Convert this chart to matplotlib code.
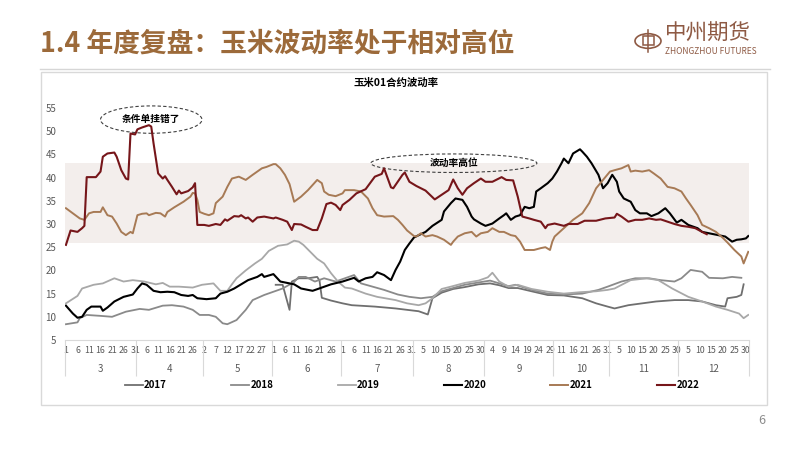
import calendar
import matplotlib
matplotlib.use("Agg")
import matplotlib.pyplot as plt
from matplotlib.patches import Ellipse, Rectangle, Circle
from matplotlib.lines import Line2D

plt.rcParams["font.family"] = ["Noto Sans CJK SC", "DejaVu Sans"]

# category axis: calendar days Mar-Dec, holidays dropped
months = [3, 4, 5, 6, 7, 8, 9, 10, 11, 12]
skipped = [(4, 5), (5, 1), (10, 1), (10, 2), (10, 3), (10, 4), (10, 5), (10, 6), (10, 7)]

years = ["2017", "2018", "2019", "2020", "2021", "2022"]

# series: category index -> volatility
x_2017 = [91, 94, 96, 97, 98, 101, 105, 109, 110, 111, 115, 120, 124, 134, 143, 153, 157, 159, 163, 168,
          173, 179, 184, 188, 192, 196, 202, 209, 216, 224, 230, 235, 238, 244, 250, 256, 264, 270, 276,
          282, 286, 287, 291, 293, 294]
v_2017 = [16.9, 16.9, 13.3, 11.5, 17.6, 18.3, 18.3, 18.6, 17.8, 14.1, 13.5, 12.9, 12.5, 12.2, 11.8, 11.2,
          10.5, 14.0, 15.2, 16.0, 16.4, 17.0, 17.2, 16.8, 16.2, 16.2, 15.5, 14.7, 14.6, 14.0, 12.9, 12.2,
          11.8, 12.5, 12.9, 13.3, 13.6, 13.6, 13.3, 12.5, 12.2, 14.0, 14.3, 14.7, 17.0]

x_2018 = [0, 5, 6, 9, 15, 20, 26, 32, 36, 42, 46, 51, 55, 58, 62, 65, 68, 70, 74, 78, 81, 86, 90, 94, 99,
          101, 104, 108, 112, 117, 121, 125, 128, 133, 138, 144, 149, 154, 159, 163, 168, 173, 179, 184,
          188, 192, 195, 202, 209, 216, 224, 231, 235, 241, 247, 253, 258, 264, 267, 271, 276, 279, 285,
          289, 293]
v_2018 = [8.4, 8.8, 9.7, 10.4, 10.2, 10.0, 11.1, 11.7, 11.5, 12.4, 12.5, 12.2, 11.5, 10.4, 10.4, 10.0, 8.6,
          8.4, 9.3, 11.5, 13.6, 14.7, 15.4, 16.1, 17.5, 18.6, 18.6, 17.6, 18.3, 17.6, 18.3, 19.0, 17.2,
          16.5, 15.8, 14.8, 14.3, 14.0, 14.3, 15.5, 16.2, 16.9, 17.4, 17.8, 17.2, 16.6, 16.9, 15.8, 15.0,
          14.8, 15.0, 15.8, 16.5, 17.6, 18.3, 18.3, 17.9, 17.6, 18.3, 20.1, 19.7, 18.4, 18.3, 18.6, 18.4]

x_2019 = [0, 5, 7, 12, 16, 21, 25, 29, 34, 39, 42, 45, 49, 55, 59, 64, 67, 70, 72, 74, 78, 82, 85, 88, 92,
          96, 99, 101, 103, 106, 109, 112, 115, 118, 121, 124, 130, 135, 143, 148, 153, 156, 159, 163,
          167, 173, 179, 183, 185, 188, 192, 196, 202, 209, 216, 223, 230, 235, 238, 245, 252, 257, 263,
          270, 276, 282, 287, 292, 294, 296]
v_2019 = [12.9, 14.5, 16.1, 16.9, 17.2, 18.3, 17.6, 17.9, 17.6, 17.0, 17.3, 16.5, 16.5, 16.3, 16.9, 17.2,
          15.6, 15.6, 17.0, 18.3, 20.0, 21.5, 22.5, 24.2, 25.3, 25.6, 26.4, 26.2, 25.5, 24.0, 22.5, 21.5,
          19.4, 17.6, 16.3, 16.1, 15.0, 14.3, 13.6, 12.9, 12.5, 12.9, 14.0, 16.0, 16.5, 17.3, 17.8, 18.5,
          19.5, 17.6, 16.5, 16.9, 16.0, 15.4, 15.0, 15.3, 15.5, 15.8, 16.1, 17.9, 18.3, 17.9, 16.1, 14.3,
          13.3, 12.2, 11.5, 10.7, 9.7, 10.4]

x_2020 = [0, 3, 5, 7, 9, 11, 15, 16, 18, 21, 25, 29, 31, 33, 35, 38, 41, 44, 47, 50, 53, 55, 57, 61, 65,
          67, 70, 73, 76, 79, 83, 85, 86, 90, 93, 97, 99, 102, 107, 111, 115, 120, 125, 127, 130, 133, 135,
          138, 141, 143, 145, 147, 149, 151, 156, 159, 163, 164, 167, 169, 172, 174, 176, 177, 180, 182,
          185, 188, 190, 191, 193, 195, 197, 199, 201, 203, 204, 206, 209, 211, 213, 215, 216, 218, 220,
          223, 224, 226, 228, 231, 233, 235, 237, 239, 240, 242, 245, 247, 249, 252, 254, 257, 260, 262,
          265, 267, 270, 274, 276, 279, 283, 286, 289, 291, 293, 295, 296]
v_2020 = [12.4, 10.7, 9.8, 10.0, 11.5, 12.2, 12.2, 11.3, 12.0, 13.3, 14.3, 14.8, 16.1, 17.2, 16.9, 15.6,
          15.3, 15.4, 15.3, 14.7, 14.5, 14.7, 14.0, 13.8, 14.0, 15.0, 15.4, 16.1, 17.0, 17.9, 18.6, 19.2,
          18.6, 19.2, 17.6, 17.2, 17.0, 16.1, 15.6, 16.3, 17.0, 17.6, 18.4, 17.6, 18.3, 18.6, 19.6, 19.0,
          17.9, 20.1, 21.9, 24.4, 25.8, 27.1, 28.3, 29.6, 30.9, 32.7, 34.5, 35.5, 35.2, 33.7, 31.6, 31.0,
          30.1, 29.6, 30.1, 31.2, 31.9, 32.3, 30.9, 31.6, 31.9, 33.7, 33.4, 33.7, 37.0, 37.7, 38.8, 39.8,
          41.3, 43.1, 44.1, 43.1, 45.2, 46.1, 45.6, 44.5, 43.1, 40.6, 37.7, 38.8, 40.6, 39.1, 37.0, 35.5,
          34.8, 33.0, 32.3, 32.3, 31.7, 32.3, 33.4, 32.3, 30.3, 30.9, 29.8, 29.1, 28.3, 28.0, 27.6, 27.3,
          26.2, 26.6, 26.7, 26.9, 27.4]

x_2021 = [0, 3, 6, 8, 10, 12, 15, 16, 18, 20, 22, 24, 26, 28, 29, 31, 33, 35, 36, 39, 41, 43, 44, 47, 51,
          54, 55, 56, 57, 58, 60, 62, 64, 65, 68, 70, 72, 75, 78, 81, 83, 85, 87, 90, 91, 93, 95, 97, 99,
          102, 105, 107, 109, 111, 112, 114, 117, 120, 121, 125, 128, 131, 133, 135, 138, 142, 144, 146,
          148, 151, 152, 154, 156, 159, 161, 164, 167, 168, 170, 173, 176, 178, 180, 183, 185, 188, 190,
          193, 195, 197, 199, 203, 206, 208, 210, 211, 212, 216, 220, 224, 227, 230, 233, 236, 238, 241,
          244, 245, 247, 250, 253, 255, 258, 261, 264, 267, 269, 271, 274, 276, 279, 282, 285, 287, 290,
          293, 294, 296]
v_2021 = [33.4, 32.3, 31.2, 30.9, 32.3, 32.6, 32.6, 33.6, 31.9, 31.6, 30.1, 28.3, 27.6, 28.3, 28.0, 31.9,
          32.2, 32.3, 31.9, 32.4, 32.3, 31.6, 32.6, 33.6, 34.8, 35.9, 36.7, 36.6, 35.2, 32.6, 32.2, 31.9,
          32.3, 34.5, 35.9, 38.0, 39.8, 40.2, 39.5, 40.6, 41.3, 42.0, 42.3, 42.9, 42.9, 42.0, 40.6, 38.6,
          34.8, 35.9, 37.3, 38.4, 39.5, 38.8, 37.0, 36.3, 36.0, 36.6, 37.3, 37.3, 37.0, 35.5, 33.4, 31.9,
          31.6, 31.7, 30.9, 29.8, 28.6, 27.4, 27.3, 28.0, 27.3, 27.6, 27.3, 26.6, 25.5, 26.2, 27.3, 28.0,
          28.3, 27.3, 28.0, 28.3, 29.1, 28.3, 28.3, 27.6, 27.4, 26.2, 24.4, 24.4, 24.8, 25.0, 24.4, 26.2,
          27.3, 29.1, 30.9, 32.3, 34.5, 37.7, 39.5, 41.3, 41.6, 42.0, 42.7, 41.3, 41.5, 41.3, 41.6, 40.9,
          39.8, 38.0, 37.7, 37.0, 35.5, 34.1, 31.9, 29.8, 29.1, 28.3, 27.0, 26.0, 24.4, 23.0, 21.5, 24.0]

x_2022 = [0, 2, 5, 7, 8, 9, 13, 15, 16, 18, 21, 22, 24, 26, 27, 28, 30, 31, 33, 36, 37, 38, 40, 42, 43, 44,
          46, 48, 49, 50, 53, 55, 56, 57, 60, 62, 65, 67, 69, 70, 73, 75, 76, 78, 79, 81, 83, 86, 88, 90,
          91, 94, 96, 98, 99, 102, 104, 107, 109, 111, 113, 115, 117, 119, 120, 123, 126, 130, 134, 137,
          138, 141, 142, 146, 147, 149, 152, 154, 156, 160, 163, 166, 168, 170, 172, 174, 177, 180, 182,
          185, 189, 191, 194, 196, 197, 198, 201, 203, 206, 208, 209, 212, 216, 218, 222, 225, 230, 234,
          238, 239, 241, 244, 247, 250, 253, 256, 258, 261, 264, 267, 270, 273, 276, 278]
v_2022 = [25.5, 28.6, 28.3, 29.1, 29.6, 40.1, 40.1, 41.3, 44.5, 45.2, 45.4, 44.5, 41.6, 39.8, 39.6, 49.5,
          49.3, 50.4, 50.8, 51.3, 51.0, 47.4, 40.9, 39.8, 40.3, 39.5, 38.0, 36.4, 37.2, 36.6, 37.1, 37.9,
          38.8, 29.8, 29.8, 29.6, 30.0, 29.8, 31.0, 30.7, 31.7, 31.6, 31.9, 31.2, 31.4, 30.5, 31.4, 31.6,
          31.4, 31.2, 31.4, 30.9, 30.5, 28.7, 30.0, 29.9, 29.4, 28.7, 28.7, 31.2, 34.3, 34.6, 34.1, 33.0,
          34.1, 35.2, 36.6, 37.5, 40.2, 40.8, 42.0, 37.9, 37.7, 40.6, 41.1, 39.1, 38.2, 37.7, 37.2, 35.3,
          36.3, 37.3, 39.6, 37.7, 36.3, 37.7, 38.8, 39.8, 39.1, 39.1, 40.1, 39.5, 39.4, 35.9, 33.7, 31.6,
          31.2, 30.9, 30.5, 29.1, 29.8, 30.1, 29.6, 30.0, 30.0, 30.7, 30.7, 31.2, 31.4, 32.2, 31.6, 30.5,
          30.9, 30.9, 31.2, 30.9, 31.0, 30.5, 30.0, 29.6, 29.4, 29.1, 28.3, 27.8]

band = (25.8, 43.2)
notes = ["条件单挂错了", "波动率高位"]

colors = ["#6F6F6F", "#8A8A8A", "#A8A8A8", "#000000", "#A77A55", "#76161A"]
widths = [1.3, 1.3, 1.3, 1.5, 1.4, 1.5]


def fx(px):
    return px / 802


def fy(py):
    return 1 - py / 451


cats = []
for m in months:
    for d in range(1, calendar.monthrange(2022, m)[1] + 1):
        if (m, d) not in skipped:
            cats.append((m, d))
n = len(cats)

fig = plt.figure(figsize=(8.02, 4.51), dpi=100)
fig.patch.set_facecolor("white")

# slide header
fig.text(fx(40), fy(43), "1.4 年度复盘：玉米波动率处于相对高位", fontsize=19.3, fontweight="bold",
         color="#9C6A3A", va="center", ha="left")
fig.add_artist(Line2D([fx(40), fx(770)], [fy(69), fy(69)], color="#D6D6D6", lw=1))
logo = "#8E5A44"
fig.add_artist(Circle((fx(648), fy(41)), 13 / 802, transform=fig.transFigure, fill=False, ec=logo, lw=1.2))
fig.add_artist(Rectangle((fx(642.5), fy(45)), 11 / 802, 9 / 451, transform=fig.transFigure, fill=False,
                         ec=logo, lw=1.1))
fig.add_artist(Line2D([fx(648), fx(648)], [fy(30), fy(52)], color=logo, lw=1.1))
fig.text(fx(665), fy(34), "中州期货", fontsize=15.5, color=logo, va="center", ha="left")
fig.text(fx(665), fy(51), "ZHONGZHOU FUTURES", fontsize=6, color=logo, va="center", ha="left")
fig.text(fx(762), fy(420), "6", fontsize=9, color="#8C8C8C", va="center", ha="center")

# chart frame
fig.add_artist(Rectangle((fx(41), fy(405)), (767 - 41) / 802, (405 - 72) / 451, transform=fig.transFigure,
                         fill=False, ec="#D9D9D9", lw=1))
fig.text(fx(396), fy(83), "玉米01合约波动率", fontsize=7.5, fontweight="bold", ha="center", va="center")

ax = fig.add_axes([fx(64.8), fy(340), (749.4 - 64.8) / 802, 232 / 451])
ax.set_xlim(-0.5, n - 0.5)
ax.set_ylim(5, 55)
ax.axhspan(band[0], band[1], color="#F3EEEC", lw=0, zorder=0)

series = [(x_2017, v_2017), (x_2018, v_2018), (x_2019, v_2019),
          (x_2020, v_2020), (x_2021, v_2021), (x_2022, v_2022)]
for (xs, vs), c, w, lab in zip(series, colors, widths, years):
    ax.plot(xs, vs, color=c, lw=w, label=lab, solid_joinstyle="round")

for sp in ["left", "top", "right"]:
    ax.spines[sp].set_visible(False)
ax.spines["bottom"].set_color("#D9D9D9")
ax.spines["bottom"].set_linewidth(0.8)

ax.set_yticks(range(5, 60, 5))
ax.tick_params(axis="y", length=0, pad=6, labelsize=7, labelcolor="#595959")
ticks = list(range(0, n, 5))
ax.set_xticks(ticks, [str(cats[i][1]) for i in ticks])
ax.tick_params(axis="x", length=0, pad=4, labelsize=6.3, labelcolor="#595959")

# month groups
bounds = [-0.5]
for m in months:
    idx = [i for i, c in enumerate(cats) if c[0] == m]
    ax.text((idx[0] + idx[-1]) / 2, -0.125, str(m), transform=ax.get_xaxis_transform(), ha="center",
            va="center", fontsize=7, color="#595959")
    bounds.append(idx[-1] + 0.5)
ax.vlines(bounds, -0.155, 0, transform=ax.get_xaxis_transform(), clip_on=False, color="#D9D9D9", lw=0.8)

# annotations
ax.add_patch(Ellipse((37, 52.5), 44, 5.9, fill=False, ec="#404040", ls=(0, (3, 2)), lw=0.8, clip_on=False))
ax.text(37, 52.6, notes[0], ha="center", va="center", fontsize=7, fontweight="bold")
ax.add_patch(Ellipse((168.3, 43.1), 72, 4.0, fill=False, ec="#404040", ls=(0, (3, 2)), lw=0.8))
ax.text(168.3, 43.2, notes[1], ha="center", va="center", fontsize=7, fontweight="bold")

ax.legend(ncol=6, loc="center", bbox_to_anchor=(0.507, -0.194), frameon=False,
          prop={"size": 7, "weight": "bold"}, handlelength=1.85, handletextpad=0.15, columnspacing=6.6)

fig.savefig("out.png", dpi=100)
